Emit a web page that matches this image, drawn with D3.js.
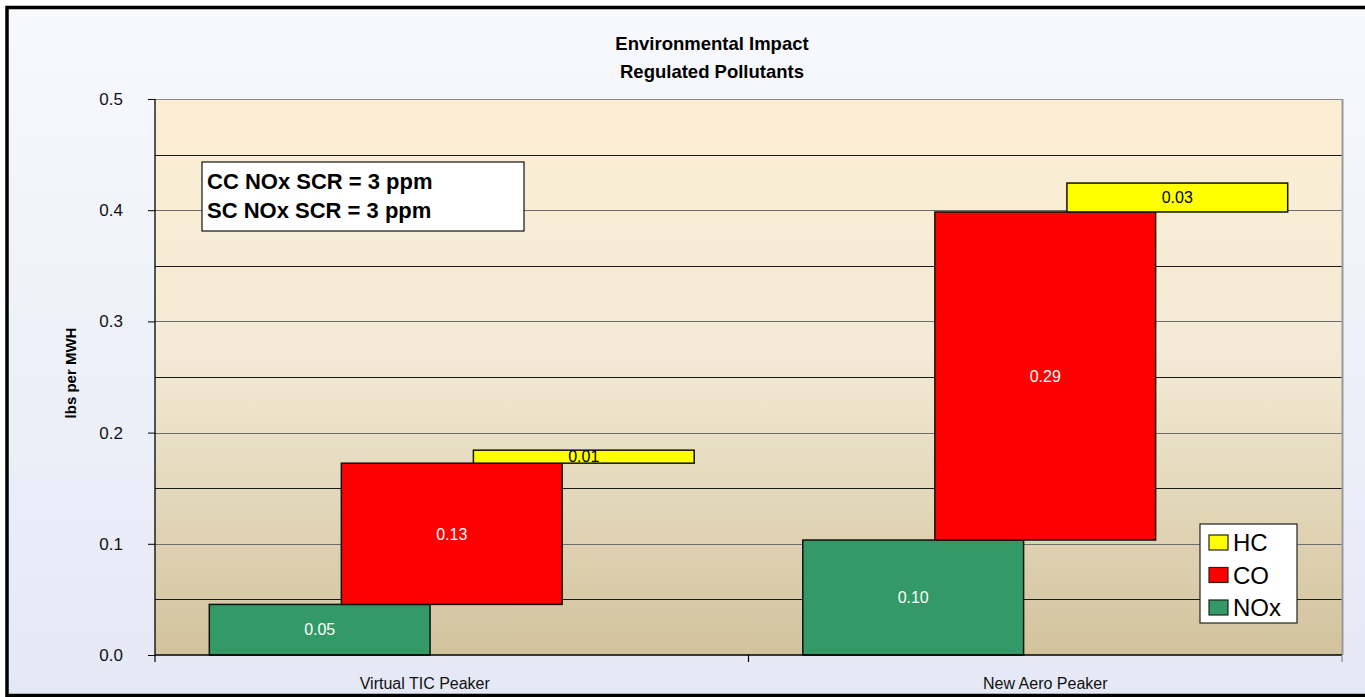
<!DOCTYPE html>
<html>
<head>
<meta charset="utf-8">
<script src="https://cdn.jsdelivr.net/npm/d3@7/dist/d3.min.js"></script>
<style>
  html, body { margin: 0; padding: 0; background: #ffffff; }
  svg { display: block; font-family: Arial, "Liberation Sans", sans-serif; }
</style>
</head>
<body>
<svg id="chart" width="1365" height="697"></svg>
<script>
// Chart data
const categories = ["Virtual TIC Peaker", "New Aero Peaker"];
const seriesNames = ["NOx", "CO", "HC"];
const noxValues = [0.0455, 0.1034];
const coValues = [0.127, 0.295];
const hcValues = [0.0117, 0.026];
const yTicks = [0.0, 0.1, 0.2, 0.3, 0.4, 0.5];
const gridValues = [0.05, 0.1, 0.15, 0.2, 0.25, 0.3, 0.35, 0.4, 0.45];
const titleLines = ["Environmental Impact", "Regulated Pollutants"];
const noteLines = ["CC NOx SCR = 3 ppm", "SC NOx SCR = 3 ppm"];
const seriesColors = ["#339966", "#FF0000", "#FFFF00"];
const labelColors = ["#ffffff", "#ffffff", "#000000"];

const svg = d3.select("#chart");
const W = 1365, H = 697;
const plot = { left: 155, right: 1342, top: 99, bottom: 655 };
const FONT = "Arial, 'Liberation Sans', sans-serif";

const defs = svg.append("defs");
const bgGrad = defs.append("linearGradient").attr("id", "bgGrad")
  .attr("x1", 0).attr("y1", 0).attr("x2", 0).attr("y2", 1);
bgGrad.append("stop").attr("offset", "0%").attr("stop-color", "#F8F9FD");
bgGrad.append("stop").attr("offset", "100%").attr("stop-color", "#E5E8F5");
const plotGrad = defs.append("linearGradient").attr("id", "plotGrad")
  .attr("x1", 0).attr("y1", 0).attr("x2", 0).attr("y2", 1);
plotGrad.append("stop").attr("offset", "0%").attr("stop-color", "#FCEED4");
plotGrad.append("stop").attr("offset", "45%").attr("stop-color", "#F3EBD6");
plotGrad.append("stop").attr("offset", "100%").attr("stop-color", "#D2C39D");

// Outer chart area with its frame
svg.append("rect").attr("x", 7).attr("y", 7.5).attr("width", W + 10).attr("height", 688)
  .attr("fill", "url(#bgGrad)").attr("stroke", "#000").attr("stroke-width", 3.5);

// Scales
const x0 = d3.scaleBand().domain(categories).range([plot.left, plot.right]);
const barWidth = x0.bandwidth() * 0.372;
const xs = d3.scaleLinear().domain([0, seriesNames.length - 1])
  .range([-x0.bandwidth() * 0.2225, x0.bandwidth() * 0.2225]);
const y = d3.scaleLinear().domain([0, 0.5]).range([plot.bottom, plot.top]);

// Plot background
svg.append("rect").attr("x", plot.left).attr("y", plot.top)
  .attr("width", plot.right - plot.left).attr("height", plot.bottom - plot.top)
  .attr("fill", "url(#plotGrad)");

// Gridlines
svg.append("g").selectAll("line").data(gridValues).join("line")
  .attr("x1", plot.left).attr("x2", plot.right)
  .attr("y1", d => Math.round(y(d)) + 0.5).attr("y2", d => Math.round(y(d)) + 0.5)
  .attr("stroke", (d, i) => i % 2 === 0 ? "#1a1a1a" : "#6e6e6e")
  .attr("stroke-width", 1.2);

// Plot border (top and right)
svg.append("line").attr("x1", plot.left).attr("x2", plot.right)
  .attr("y1", plot.top + 0.5).attr("y2", plot.top + 0.5)
  .attr("stroke", "#8a8a8a").attr("stroke-width", 1.2);
svg.append("line").attr("x1", plot.right + 0.5).attr("x2", plot.right + 0.5)
  .attr("y1", plot.top).attr("y2", plot.bottom)
  .attr("stroke", "#999").attr("stroke-width", 2);

// Stacked, staggered bars
const rows = [];
categories.forEach((c, ci) => {
  const vals = [noxValues[ci], coValues[ci], hcValues[ci]];
  let base = 0;
  vals.forEach((v, si) => {
    rows.push({ cat: c, si, v, y0: base, y1: base + v });
    base += v;
  });
});

const barG = svg.append("g");
barG.selectAll("rect").data(rows).join("rect")
  .attr("x", d => x0(d.cat) + x0.bandwidth() / 2 + xs(d.si) - barWidth / 2)
  .attr("width", barWidth)
  .attr("y", d => y(d.y1))
  .attr("height", d => y(d.y0) - y(d.y1))
  .attr("fill", d => seriesColors[d.si])
  .attr("stroke", "#111").attr("stroke-width", 1.5);

const fmt = d3.format(".2f");
barG.selectAll("text").data(rows).join("text")
  .attr("x", d => x0(d.cat) + x0.bandwidth() / 2 + xs(d.si))
  .attr("y", d => (y(d.y0) + y(d.y1)) / 2)
  .attr("dy", "0.36em")
  .attr("text-anchor", "middle")
  .attr("font-size", 16)
  .attr("fill", d => labelColors[d.si])
  .text(d => fmt(d.v));

// Y axis
const yAxis = d3.axisLeft(y).tickValues(yTicks).tickFormat(d3.format(".1f"))
  .tickSize(7).tickPadding(25);
const yg = svg.append("g").attr("transform", `translate(${plot.left},0)`).call(yAxis)
  .attr("font-size", 17).attr("font-family", FONT);
yg.select(".domain").attr("stroke", "#000").attr("stroke-width", 1.3).attr("d", `M0,${plot.top}V${plot.bottom}`);
yg.selectAll(".tick line").attr("stroke", "#000");
yg.selectAll(".tick text").attr("fill", "#111");

// X axis
const xAxis = d3.axisBottom(x0).tickSize(0).tickPadding(23);
const xg = svg.append("g").attr("transform", `translate(0,${plot.bottom})`).call(xAxis)
  .attr("font-size", 16).attr("font-family", FONT);
xg.select(".domain").attr("stroke", "#000").attr("stroke-width", 1.5)
  .attr("d", `M${plot.left},0H${plot.right}`);
xg.selectAll(".tick text").attr("fill", "#111")
  .attr("dx", (d, i) => i === 0 ? -27 : 0);
// Category boundary ticks
const bounds = categories.map(c => x0(c)).concat([plot.right]);
xg.selectAll(".bound").data(bounds).join("line").attr("class", "bound")
  .attr("x1", d => d).attr("x2", d => d).attr("y1", 0).attr("y2", 7)
  .attr("stroke", d => d === plot.right ? "#888" : "#000").attr("stroke-width", 1.2);

// Y axis title
svg.append("text")
  .attr("transform", `translate(71,373) rotate(-90)`)
  .attr("dy", "0.36em")
  .attr("text-anchor", "middle").attr("font-size", 15).attr("font-weight", "bold")
  .attr("fill", "#000").text("lbs per MWH");

// Chart title
svg.append("g").selectAll("text").data(titleLines).join("text")
  .attr("x", 712).attr("y", (d, i) => 50 + i * 28)
  .attr("text-anchor", "middle").attr("font-size", 18.5).attr("font-weight", "bold")
  .attr("fill", "#000").text(d => d);

// Note box
const note = svg.append("g");
note.append("rect").attr("x", 202).attr("y", 162).attr("width", 322).attr("height", 69)
  .attr("fill", "#fff").attr("stroke", "#111").attr("stroke-width", 1.2);
note.selectAll("text").data(noteLines).join("text")
  .attr("x", 207).attr("y", (d, i) => 189 + i * 29)
  .attr("font-size", 22).attr("font-weight", "bold").attr("fill", "#000")
  .text(d => d);

// Legend
const legendOrder = [2, 1, 0];
const lg = svg.append("g");
lg.append("rect").attr("x", 1200).attr("y", 524).attr("width", 97).attr("height", 99)
  .attr("fill", "#fff").attr("stroke", "#222").attr("stroke-width", 1.2);
const li = lg.selectAll("g.item").data(legendOrder).join("g").attr("class", "item")
  .attr("transform", (d, i) => `translate(1209,${535 + i * 32.5})`);
li.append("rect").attr("width", 19).attr("height", 15)
  .attr("fill", d => seriesColors[d]).attr("stroke", "#222").attr("stroke-width", 1.2);
li.append("text").attr("x", 24).attr("y", 7.5).attr("dy", "0.36em")
  .attr("font-size", 24).attr("fill", "#000").text(d => seriesNames[d]);
</script>
</body>
</html>
